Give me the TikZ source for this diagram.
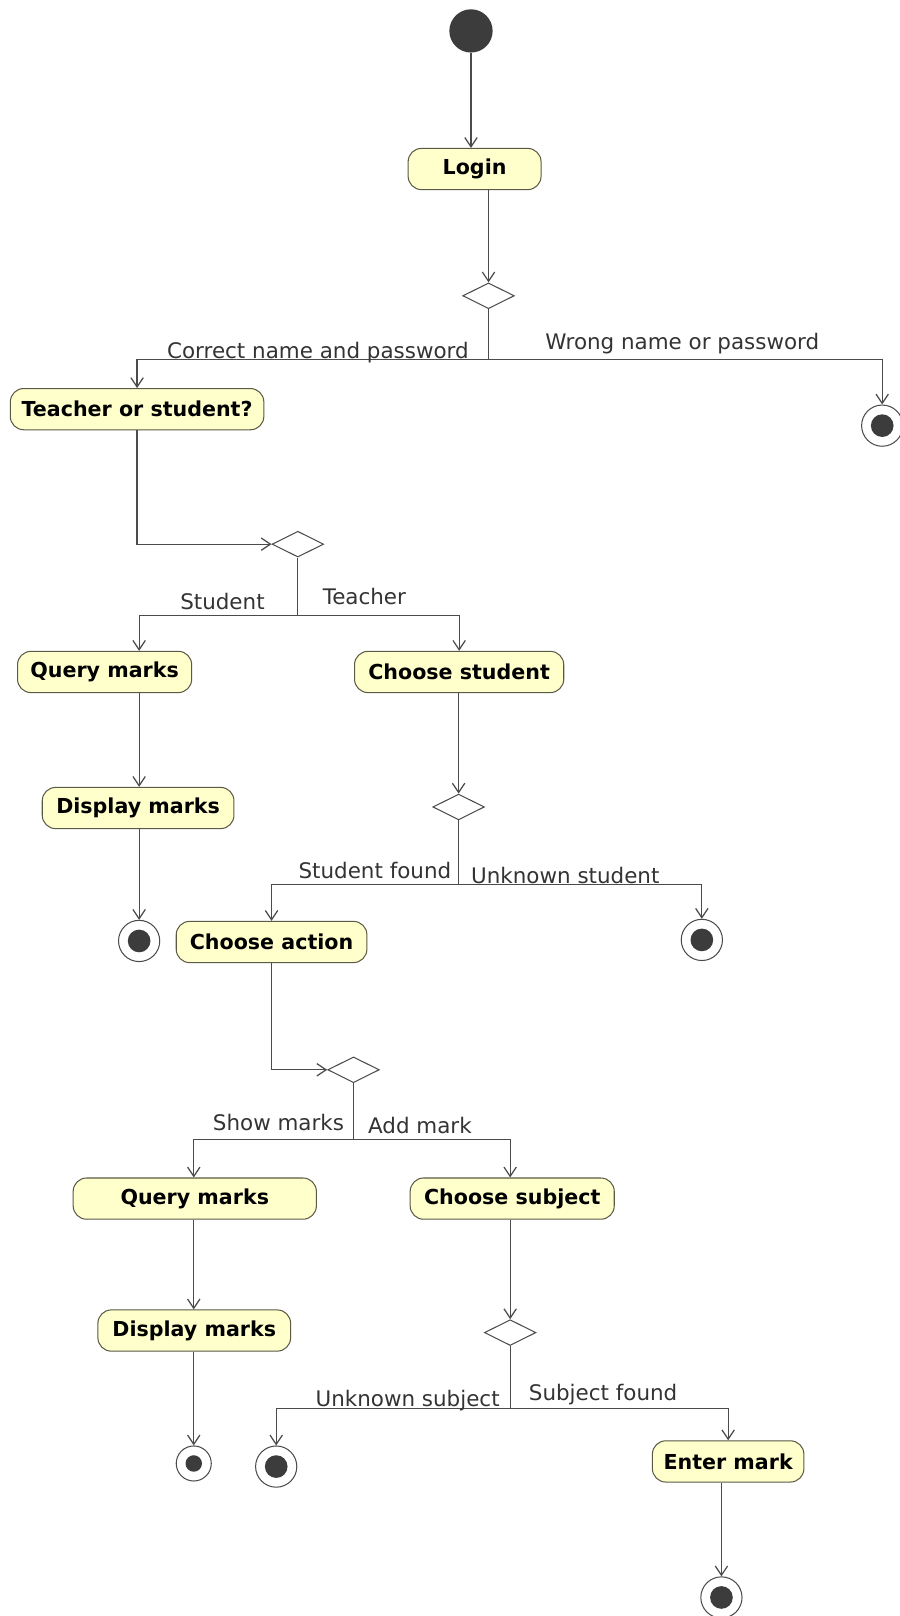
\documentclass[tikz,border=0pt]{standalone}
\usepackage{fontspec}
\setmainfont{DejaVu Sans}
\usetikzlibrary{positioning,shapes.geometric,arrows.meta}
\definecolor{actfill}{RGB}{255,255,204}
\definecolor{actline}{RGB}{90,90,70}
\definecolor{flowline}{RGB}{75,75,75}
\definecolor{dotfill}{RGB}{60,60,60}

\begin{document}
\begin{tikzpicture}[x=1pt,y=-1pt,
	action/.style={draw=actline, fill=actfill, line width=1pt, rounded corners=13pt, minimum height=40pt, inner sep=0pt, font=\fontsize{20}{24}\selectfont\bfseries},
	choice/.style={diamond, aspect=2, draw=flowline, fill=white, line width=1pt, minimum width=50pt, minimum height=25pt, inner sep=0pt},
	initial/.style={circle, fill=dotfill, minimum size=42pt, inner sep=0pt},
	final/.style={circle, draw=flowline, fill=white, line width=1pt, minimum size=40pt, inner sep=0pt,
		path picture={\fill[dotfill] (path picture bounding box.center) circle (11pt);}},
	guard/.style={text=black!80, font=\fontsize{20.8}{24}\selectfont, inner sep=0pt},
	wire/.style={draw=flowline, line width=1.2pt},
	flow/.style={wire, -{Straight Barb[length=9pt,width=12pt]}}]
	\useasboundingbox (0,0) rectangle (873,1568);

	\draw
	node[initial] (start) at (457,30) {}
	node[action, minimum width=129pt] (login) at (460.5,164) {Login}
	node[choice] (dec1) at (474,287) {}
	node[action, minimum width=246pt] (tos) at (133,397) {Teacher or student?}
	node[final] (endA) at (856,413) {};

	\coordinate (split1) at (474,349);
	\draw[flow] (start) -- (start |- login.north);
	\draw[flow] (login.south -| dec1) -- (dec1.north);
	\draw[flow] (dec1.south) -- (split1) -| (tos.north);
	\draw[flow] (split1) -| (endA.north);
	\node[guard, anchor=base east] (correctlbl) at (455,348) {Correct name and password};
	\node[guard, anchor=base west] (wronglbl) at (529,339) {Wrong name or password};

	\draw
	node[choice] (dec2) at (289,528) {}
	node[action, minimum width=169pt] (querya) at (101.5,652) {Query marks}
	node[action, minimum width=203pt] (choosestud) at (445.5,652) {Choose student}
	node[action, minimum width=186pt] (displaya) at (134,784) {Display marks}
	node[final] (endB) at (135,913) {}
	node[choice] (dec3) at (445,783) {};

	\coordinate (split2) at (289,597);
	\draw[flow] (tos.south) |- (dec2.west);
	\draw[wire] (dec2.south) -- (split2);
	\draw[flow] (split2) -| (querya.north -| endB);
	\draw[flow] (split2) -| (choosestud.north);
	\draw[flow] (querya.south -| endB) -- (displaya.north -| endB);
	\draw[flow] (displaya.south -| endB) -- (endB.north);
	\draw[flow] (choosestud.south -| dec3) -- (dec3.north);
	\node[guard, anchor=base east] (studentlbl) at (257,591) {Student};
	\node[guard, anchor=base west] (teacherlbl) at (313,587) {Teacher};

	\draw
	node[action, minimum width=185pt] (chooseact) at (263.5,914) {Choose action}
	node[final] (endC) at (681,912) {}
	node[choice] (dec4) at (343,1038) {};

	\coordinate (split3) at (445,858);
	\draw[wire] (dec3.south) -- (split3);
	\draw[flow] (split3) -| (chooseact.north);
	\draw[flow] (split3) -| (endC.north);
	\draw[flow] (chooseact.south) |- (dec4.west);
	\node[guard, anchor=base east] (foundlbl) at (438,852) {Student found};
	\node[guard, anchor=base west] (unknownlbl) at (457,857) {Unknown student};

	\draw
	node[action, minimum width=236pt] (queryb) at (189,1163) {Query marks}
	node[action, minimum width=198pt] (choosesubj) at (497,1163) {Choose subject}
	node[action, minimum width=187pt] (displayb) at (188.5,1291) {Display marks}
	node[final, minimum size=34pt, path picture={\fill[dotfill] (path picture bounding box.center) circle (8pt);}] (endD) at (188,1420) {}
	node[choice] (dec5) at (495,1293) {};

	\coordinate (split4) at (343,1106);
	\draw[wire] (dec4.south) -- (split4);
	\draw[flow] (split4) -| (queryb.north -| endD);
	\draw[flow] (split4) -| (choosesubj.north -| dec5);
	\draw[flow] (queryb.south -| endD) -- (displayb.north -| endD);
	\draw[flow] (displayb.south -| endD) -- (endD.north);
	\draw[flow] (choosesubj.south -| dec5) -- (dec5.north);
	\node[guard, anchor=base east] (showlbl) at (334,1097) {Show marks};
	\node[guard, anchor=base west] (addlbl) at (357,1100) {Add mark};

	\draw
	node[final] (endE) at (268,1423) {}
	node[action, minimum width=147pt] (entermark) at (706.5,1418) {Enter mark}
	node[final] (endF) at (700,1550) {};

	\coordinate (split5) at (495,1367);
	\draw[wire] (dec5.south) -- (split5);
	\draw[flow] (split5) -| (endE.north);
	\draw[flow] (split5) -| (entermark.north);
	\draw[flow] (entermark.south -| endF) -- (endF.north);
	\node[guard, anchor=base east] (unknownsubjlbl) at (485,1365) {Unknown subject};
	\node[guard, anchor=base west] (subjfoundlbl) at (513,1359) {Subject found};
\end{tikzpicture}
\end{document}
